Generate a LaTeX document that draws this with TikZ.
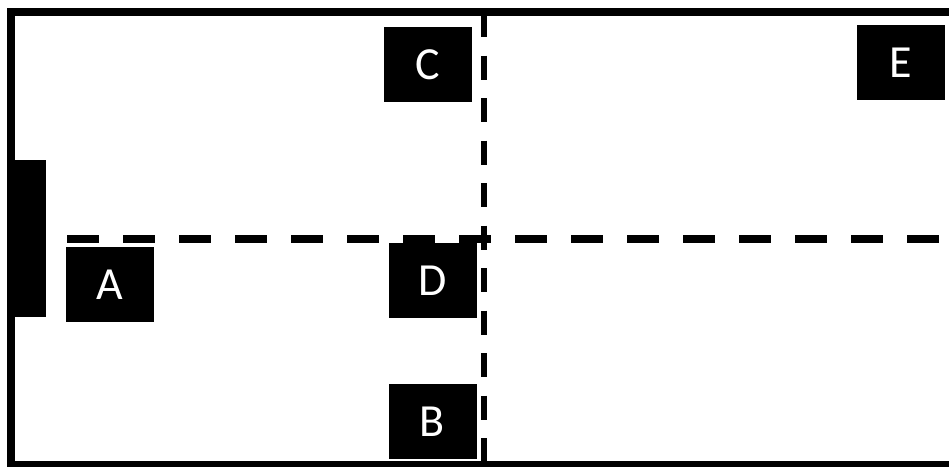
\documentclass[tikz,border=0pt]{standalone}
\usepackage{fontspec}
\setmainfont{Carlito}
\tikzset{room/.style={fill=black,text=white,minimum width=88pt,minimum height=75pt,inner sep=0pt,font=\fontsize{46}{50}\selectfont}}
\begin{document}
\begin{tikzpicture}[x=1pt,y=-1pt]
\useasboundingbox (0,0) rectangle (949,466);
\clip (0,0) rectangle (949,466);
\coordinate (NW) at (11,12); \coordinate (SE) at (975,465);
\coordinate (H1) at (67,239); \coordinate (H2) at (949,239);
\coordinate (V1) at (484,13); \coordinate (V2) at (484,466);
\draw[line width=8pt] (NW) rectangle (SE);
\fill (11,160) rectangle (46,317);
\draw[line width=8pt,dash pattern=on 32pt off 24pt] (H1)--(H2);
\draw[line width=6pt,dash pattern=on 24pt off 18.5pt] (V1)--(V2);
\foreach \n/\x/\y in {A/110/284.5,B/432.5/421.5,C/427.5/64.5,D/432.5/280.5,E/900.5/62.5}{\node[room] (\n) at (\x,\y) {\n};}
\end{tikzpicture}
\end{document}
